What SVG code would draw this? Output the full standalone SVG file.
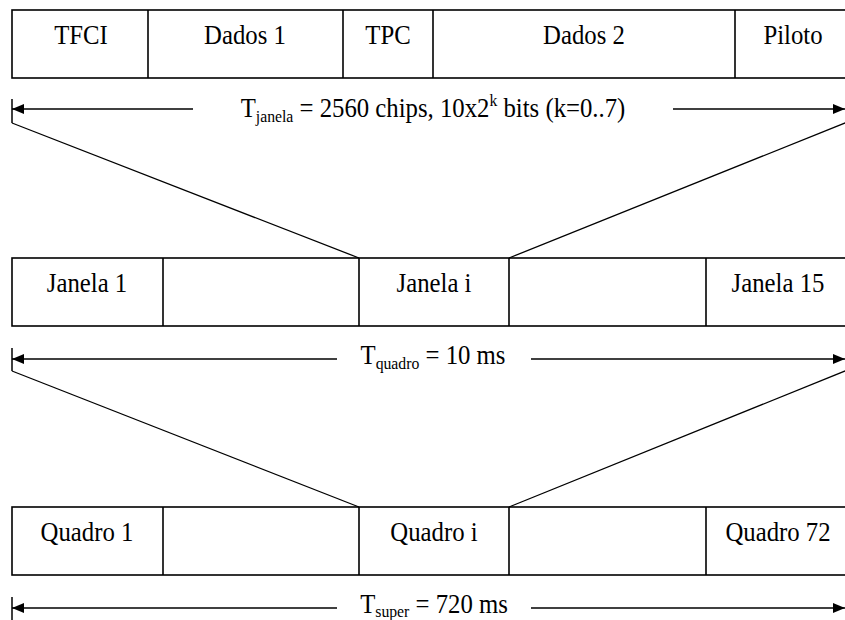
<svg xmlns="http://www.w3.org/2000/svg" width="845" height="620" viewBox="0 0 845 620">
  <style>
    .box { fill: #fff; stroke: #000; stroke-width: 1.6; }
    .div { stroke: #000; stroke-width: 1.6; }
    .lbl { font-family: "Liberation Serif", "Times New Roman", serif; font-size: 27.5px; fill: #000; text-anchor: middle; }
    .sub { font-size: 17.5px; }
    .dim { stroke: #000; stroke-width: 1.5; fill: none; }
    .fan { stroke: #000; stroke-width: 1.3; fill: none; }
  </style>
  <defs>
    <marker id="ah" viewBox="0 0 12 10" refX="12" refY="5" markerWidth="12" markerHeight="10" markerUnits="userSpaceOnUse" orient="auto-start-reverse">
      <path d="M0,0 L12,5 L0,10 Z" fill="#000"/>
    </marker>
  </defs>
  <rect width="845" height="620" fill="#fff"/>

  <!-- slot structure (labels are narrowed horizontally, Times-style condensed) -->
  <g id="slot">
    <rect class="box" x="12" y="10" width="840" height="68"/>
    <line class="div" x1="148" y1="10" x2="148" y2="78"/>
    <line class="div" x1="343" y1="10" x2="343" y2="78"/>
    <line class="div" x1="433" y1="10" x2="433" y2="78"/>
    <line class="div" x1="735" y1="10" x2="735" y2="78"/>
    <text class="lbl" transform="translate(81 44) scale(0.9 1)">TFCI</text>
    <text class="lbl" transform="translate(245 44) scale(0.9 1)">Dados 1</text>
    <text class="lbl" transform="translate(388 44) scale(0.9 1)">TPC</text>
    <text class="lbl" transform="translate(584 44) scale(0.9 1)">Dados 2</text>
    <text class="lbl" transform="translate(793 44) scale(0.9 1)">Piloto</text>
  </g>

  <!-- frame structure -->
  <g id="frame">
    <rect class="box" x="12" y="258" width="840" height="68"/>
    <line class="div" x1="163" y1="258" x2="163" y2="326"/>
    <line class="div" x1="359" y1="258" x2="359" y2="326"/>
    <line class="div" x1="509" y1="258" x2="509" y2="326"/>
    <line class="div" x1="706" y1="258" x2="706" y2="326"/>
    <text class="lbl" transform="translate(87 292) scale(0.9 1)">Janela 1</text>
    <text class="lbl" transform="translate(434 292) scale(0.9 1)">Janela i</text>
    <text class="lbl" transform="translate(778 292) scale(0.9 1)">Janela 15</text>
  </g>

  <!-- superframe structure -->
  <g id="superframe">
    <rect class="box" x="12" y="507" width="840" height="68"/>
    <line class="div" x1="163" y1="507" x2="163" y2="575"/>
    <line class="div" x1="359" y1="507" x2="359" y2="575"/>
    <line class="div" x1="509" y1="507" x2="509" y2="575"/>
    <line class="div" x1="706" y1="507" x2="706" y2="575"/>
    <text class="lbl" transform="translate(87 541) scale(0.9 1)">Quadro 1</text>
    <text class="lbl" transform="translate(434 541) scale(0.9 1)">Quadro i</text>
    <text class="lbl" transform="translate(778 541) scale(0.9 1)">Quadro 72</text>
  </g>

  <!-- duration labels -->
  <g id="dim-labels">
    <text class="lbl" transform="translate(433 117) scale(0.9 1)">T<tspan class="sub" dy="5">janela</tspan><tspan dy="-5"> = 2560 chips, 10x2</tspan><tspan class="sub" dy="-11">k</tspan><tspan dy="11"> bits (k=0..7)</tspan></text>
    <text class="lbl" transform="translate(433 364) scale(0.9 1)">T<tspan class="sub" dy="5">quadro</tspan><tspan dy="-5"> = 10 ms</tspan></text>
    <text class="lbl" transform="translate(434 613) scale(0.9 1)">T<tspan class="sub" dy="4">super</tspan><tspan dy="-4"> = 720 ms</tspan></text>
  </g>

  <!-- connectors: duration arrows and expansion lines -->
  <g id="connectors">
    <line class="dim" x1="12" y1="99" x2="12" y2="123"/>
    <line class="dim" x1="193" y1="109" x2="12" y2="109" marker-end="url(#ah)"/>
    <line class="dim" x1="673" y1="109" x2="845" y2="109" marker-end="url(#ah)"/>

    <line class="dim" x1="12" y1="348" x2="12" y2="371"/>
    <line class="dim" x1="337" y1="359" x2="12" y2="359" marker-end="url(#ah)"/>
    <line class="dim" x1="531" y1="359" x2="845" y2="359" marker-end="url(#ah)"/>

    <line class="dim" x1="12" y1="597" x2="12" y2="620"/>
    <line class="dim" x1="337" y1="608" x2="12" y2="608" marker-end="url(#ah)"/>
    <line class="dim" x1="531" y1="608" x2="845" y2="608" marker-end="url(#ah)"/>

    <line class="fan" x1="12" y1="123" x2="359" y2="258"/>
    <line class="fan" x1="850" y1="121" x2="509" y2="258"/>
    <line class="fan" x1="12" y1="371" x2="359" y2="507"/>
    <line class="fan" x1="850" y1="369" x2="509" y2="507"/>
  </g>
</svg>
